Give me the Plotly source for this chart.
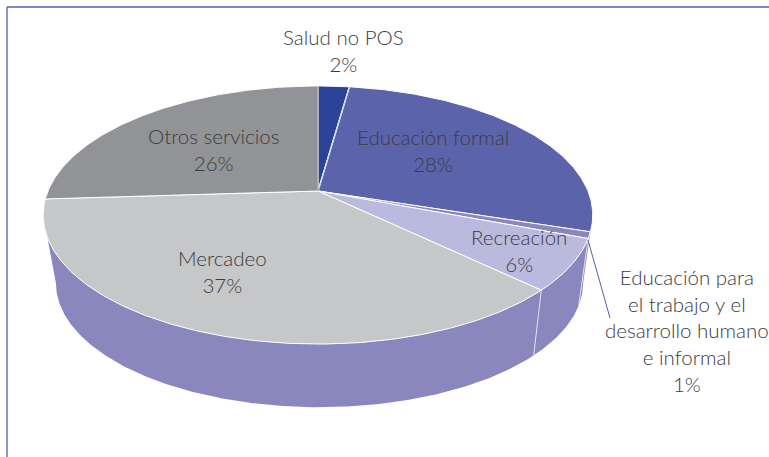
import numpy as np
import plotly.graph_objects as go

categories = ["Salud no POS", "Educación formal",
              "Educación para<br>el trabajo y el<br>desarrollo humano<br>e informal",
              "Recreación", "Mercadeo", "Otros servicios"]
values = [2.2, 27.8, 0.8, 6.4, 36.8, 26.0]
labels = ["2%", "28%", "1%", "6%", "37%", "26%"]
colors = ["#2a4399", "#5b63ab", "#8a87bf", "#babade", "#c6c7c9", "#929396"]
label_pos = [(343, 50), (433, 150), (687, 330), (519, 250), (222, 271), (213, 149)]

WALL = "#8a87bf"
BORDER = "#4c62ae"
TEXT = "#3c3c3e"
FONT = "Lato Light, Lato, sans-serif"

CX, CY = 318, 191
A, B, K = 270, 124.6, 0.186
CX2, A2, B2, CY2 = 319.5, 259, 119.8, 260


def rim(theta, a=A, b=B, cy=CY, cx=CX):
    u, v = np.sin(theta), np.cos(theta)
    w = 1 + K * v
    return cx + a * u / w, cy - b * v / w


def low(theta):
    return rim(theta, A2, B2, CY2, CX2)


fig = go.Figure()


def poly(x, y, fill, line="rgba(0,0,0,0)", width=0):
    fig.add_trace(go.Scatter(x=list(x), y=list(y), mode="lines", fill="toself",
                             fillcolor=fill, line=dict(color=line, width=width),
                             hoverinfo="skip", showlegend=False))


def seg(x, y, color, width):
    fig.add_trace(go.Scatter(x=list(x), y=list(y), mode="lines",
                             line=dict(color=color, width=width),
                             hoverinfo="skip", showlegend=False))


# side wall: silhouette between the left and right extremes of the rim
t = np.linspace(np.radians(100.7), np.radians(259.3), 300)
tx, ty = rim(t)
bx, by = low(t[::-1])
poly(np.r_[tx, bx], np.r_[ty, by], WALL)

cum = np.cumsum([0] + values) / sum(values) * 2 * np.pi

# wall dividers on the visible front of the pie
for i in [2, 3]:
    x0, y0 = rim(cum[i + 1])
    x1, y1 = low(cum[i + 1])
    seg([x0, x1], [y0, y1], "#e4e4f2", 1)

# top faces
for i, c in enumerate(colors):
    th = np.linspace(cum[i], cum[i + 1], max(4, int(values[i] * 6)))
    x, y = rim(th)
    poly(np.r_[CX, x, CX], np.r_[CY, y, CY], c, "white", 1)

x, y = rim(cum[1])
seg([CX, x], [CY, y], "#cfe3f5", 1.5)
x, y = rim(0.0)
seg([CX, x], [CY, y], "#929396", 1)

# leader line
seg([588, 610], [240, 318], "#5560ab", 1)

anns = []
for (px, py), cat, lab in zip(label_pos, categories, labels):
    anns.append(dict(x=px, y=py, xref="x", yref="y", text=f"{cat}<br>{lab}", showarrow=False,
                     align="center", xanchor="center", yanchor="middle",
                     font=dict(family=FONT, size=20.5, color=TEXT)))

fig.update_layout(
    width=769, height=457, autosize=False,
    margin=dict(l=0, r=0, t=0, b=0),
    paper_bgcolor="white", plot_bgcolor="white",
    showlegend=False,
    xaxis=dict(range=[0, 769], visible=False, fixedrange=True),
    yaxis=dict(range=[457, 0], visible=False, fixedrange=True),
    annotations=anns,
    shapes=[
        dict(type="line", xref="x", yref="y", x0=7, y0=7, x1=769, y1=7, line=dict(color=BORDER, width=1.3)),
        dict(type="line", xref="x", yref="y", x0=7, y0=7, x1=7, y1=457, line=dict(color=BORDER, width=1.3)),
    ],
)
fig.write_html("out.html", config={"displayModeBar": False},
               post_script="document.body.style.margin='0';document.body.style.overflow='hidden';")
